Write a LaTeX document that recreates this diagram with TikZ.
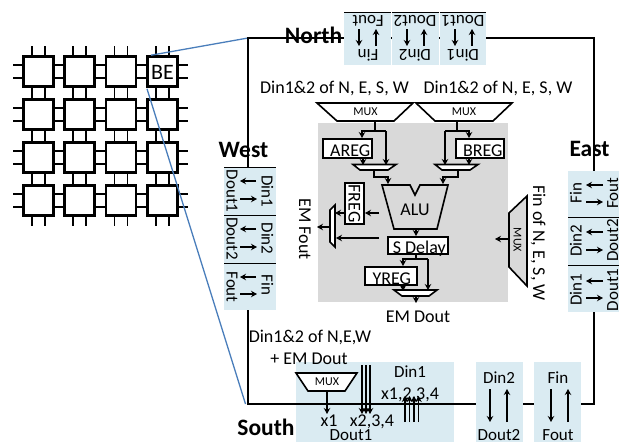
\documentclass[tikz,border=0pt]{standalone}
\usepackage{fontspec}
\setmainfont{Carlito}
\usetikzlibrary{arrows.meta}
\definecolor{panelblue}{HTML}{DAEBF2}
\definecolor{coregray}{HTML}{D9D9D9}
\definecolor{linkblue}{HTML}{4A7EBB}
\tikzset{
  wire/.style={line width=1.7pt,black},
  arr/.style={wire,-{Stealth[length=6pt,width=6.5pt]}},
  panel/.style={fill=panelblue,draw=none},
  t18/.style={inner sep=0pt,font=\fontsize{18}{18}\selectfont,text height=11.6pt,text depth=0pt},
  t17/.style={inner sep=0pt,font=\fontsize{17}{17}\selectfont,text height=11pt,text depth=0pt},
  t12/.style={inner sep=0pt,font=\fontsize{12}{12}\selectfont,text height=7.7pt,text depth=0pt},
  tb/.style={inner sep=0pt,font=\bfseries\fontsize{23.5}{23.5}\selectfont,text height=15pt,text depth=0pt},
  reg/.style={draw=black,line width=1.5pt,fill=white,inner sep=0pt,font=\fontsize{18}{18}\selectfont},
  tile/.style={draw=black,line width=2.6pt,fill=white,minimum width=30pt,minimum height=30pt,inner sep=0pt},
  muxshape/.style={draw=black,line width=1.6pt,fill=white,line join=miter},
  bordertop/.style={line width=1pt,black},
}
% named-end arrow helper
\newcommand{\arw}[5]{\coordinate (#1s) at (#2,#3);\coordinate (#1e) at (#4,#5);\draw[arr] (#1s) -- (#1e);}
\newcommand{\regtext}[1]{\raisebox{-8.7pt}[0pt][0pt]{#1}}
\begin{document}
\begin{tikzpicture}[x=1pt,y=-1pt]
\useasboundingbox (0,0) rectangle (624,442);
\clip (0,0) rectangle (624,442);
% ---------- tile array
\foreach \i/\cx in {1/38.5,2/79.7,3/121,4/162.3}{
  \foreach \j/\cy in {1/71.5,2/114.5,3/157.5,4/200.5}{
    \foreach \d in {-6.5,6.5}{
      \draw[line width=1.6pt] (\cx-25.5,\cy+\d) -- (\cx+25.5,\cy+\d);
      \draw[line width=1.6pt] (\cx+\d,\cy-25.5) -- (\cx+\d,\cy+25.5);
    }
  }
}
\foreach \i/\cx in {1/38.5,2/79.7,3/121,4/162.3}{
  \foreach \j/\cy in {1/71.5,2/114.5,3/157.5,4/200.5}{
    \node[tile] (tile\i\j) at (\cx,\cy) {};
  }
}
\node[t18,font=\fontsize{22}{22}\selectfont] (be) at (162.5,73.5) {BE};
% ---------- zoom lines
\coordinate (bigTL) at (248,38);
\coordinate (bigTR) at (594,38);
\coordinate (bigBR) at (594,404);
\coordinate (bigBL) at (248,404);
\draw[line width=1.3pt,linkblue] (tile41.north west) ++(5,0) -- (bigTL);
\draw[line width=1.3pt,linkblue] (tile41.south west) ++(1,1) -- (245.5,404);
% ---------- big outline
\draw[line width=1.5pt] (bigTL) -- (bigTR) -- (bigBR) -- (bigBL) -- cycle;
% ---------- panels
\fill[panel] (344,12) rectangle (390.5,65);
\fill[panel] (391.5,12) rectangle (438.5,65);
\fill[panel] (439.5,12) rectangle (486,65);
\fill[panel] (224,167) rectangle (276,214.5);
\fill[panel] (224,215.5) rectangle (276,262.5);
\fill[panel] (224,263.5) rectangle (276,310);
\fill[panel] (568,171) rectangle (619,216.5);
\fill[panel] (568,217.5) rectangle (619,264.5);
\fill[panel] (568,265.5) rectangle (619,312);
\fill[panel] (296,362) rectangle (454,442);
\fill[panel] (476,362) rectangle (523,442);
\fill[panel] (534,362) rectangle (581,442);
\draw[wire] (bigBL) -- (476,404);
\foreach \a/\b in {344/390.5,391.5/438.5,439.5/486}{\draw[bordertop] (\a,12) -- (\b,12);}
\foreach \y in {167,215,263}{\draw[bordertop] (224,\y) -- (276,\y);}
\foreach \y in {217,265}{\draw[bordertop] (568,\y) -- (619,\y);}
% ---------- core
\fill[coregray] (318,123) rectangle (508,302);
% top muxes
\draw[muxshape] (317,103) -- (413,103) -- (394,121) -- (337,121) -- cycle;
\draw[muxshape] (416,103) -- (512,103) -- (493,121) -- (435,121) -- cycle;
\node[t12] (muxa) at (365.5,112) {MUX};
\node[t12] (muxb) at (464,112) {MUX};
% registers
\node[reg,minimum width=49pt,minimum height=19pt,anchor=north west] (areg) at (322,138) {\hspace*{6pt}\regtext{AREG}};
\node[reg,minimum width=48pt,minimum height=19pt,anchor=north west] (breg) at (455,138) {\hspace*{6pt}\regtext{BREG}};
\node[reg,minimum width=19pt,minimum height=41pt] (freg) at (354.5,203.5) {\rotatebox{-90}{FREG}};
\node[reg,minimum width=60pt,minimum height=17pt,anchor=north west] (sdelay) at (387,236) {\hspace*{3pt}\regtext{S Delay}};
\node[reg,minimum width=52pt,minimum height=18pt,anchor=north west] (yreg) at (364,266) {\hspace*{2pt}\regtext{YREG}};
% small muxes
\draw[muxshape] (353,164.5) -- (396,164.5) -- (388,170) -- (360,170) -- cycle;
\coordinate (smA) at (374,170);
\draw[muxshape] (435,164.5) -- (478,164.5) -- (470,170) -- (442,170) -- cycle;
\coordinate (smB) at (458,170);
\draw[muxshape] (394,290) -- (437,290) -- (429,296) -- (402,296) -- cycle;
\coordinate (smY) at (416,296);
% ALU
\draw[muxshape,fill=coregray] (382,185) -- (410,185) -- (415,195) -- (420,185) -- (448,185) -- (437,229) -- (394,229) -- cycle;
\node[t18] (alu) at (415,209.5) {ALU};
% vertical muxes
\draw[muxshape] (335,205) -- (335,247) -- (330,242) -- (330,210) -- cycle;
\coordinate (vmF) at (330,227);
\draw[muxshape,fill=coregray] (527,196) -- (527,286) -- (509,267) -- (509,213) -- cycle;
\node[t12,rotate=-90] (muxf) at (517.5,240) {MUX};
% core wiring
\coordinate (ja) at (375,131);
\coordinate (jaL) at (362,131);
\coordinate (jaR) at (386,131);
\coordinate (ma) at (375,121);
\draw[wire] (ma) -- (ja);
\draw[arr] (jaR) -- (jaL) -- (areg.north -| jaL);
\coordinate (mai) at (386,165);
\draw[arr] (jaR) -- (mai);
\coordinate (ai) at (363,165);
\draw[arr] (areg.south -| ai) -- (ai);
\coordinate (aluA) at (388,184);
\draw[arr] (smA) -- (374,177) -- (388,177) -- (aluA);
\coordinate (jb) at (457,131);
\coordinate (jbL) at (445,131);
\coordinate (jbR) at (469,131);
\coordinate (mb) at (457,121);
\draw[wire] (mb) -- (jb);
\draw[arr] (jbL) -- (jbR) -- (breg.north -| jbR);
\coordinate (mbi) at (445,165);
\draw[arr] (jbL) -- (mbi);
\coordinate (bi) at (469,165);
\draw[arr] (breg.south -| bi) -- (bi);
\coordinate (aluB) at (443,184);
\draw[arr] (smB) -- (458,177) -- (443,177) -- (aluB);
\coordinate (aluOut) at (416,229);
\draw[arr] (aluOut) -- (sdelay.north -| aluOut);
\arw{af}{379}{213}{365}{213}
\coordinate (vmT) at (335,213);
\draw[arr] (freg.west |- vmT) -- (vmT);
\arw{sf}{379}{238}{336}{238}
\coordinate (emf) at (317,227);
\draw[arr] (vmF) -- (emf);
\coordinate (sd) at (416,259);
\draw[wire] (sdelay.south -| sd) -- (sd);
\coordinate (yi) at (403,259);
\draw[arr] (428,259) -- (yi) -- (yreg.north -| yi);
\coordinate (ymi) at (428,290);
\draw[arr] (428,259) -- (ymi);
\coordinate (ymj) at (403,291);
\draw[arr] (yreg.south -| ymj) -- (ymj);
\coordinate (emd) at (416,303);
\draw[arr] (smY) -- (emd);
\arw{ff}{509}{239}{495}{239}
% ---------- core text
\node[t18] (dinA) at (334.5,88) {Din1\&2 of N, E, S, W};
\node[t18] (dinB) at (498,88) {Din1\&2 of N, E, S, W};
\node[t18,rotate=-90] (emfout) at (305,229) {EM Fout};
\node[t18] (emdout) at (418,317) {EM Dout};
\node[t18,rotate=-90] (finof) at (539,243) {Fin of N, E, S, W};
% ---------- side titles
\node[tb] (north) at (313.5,36) {North};
\node[tb] (west) at (243.5,150) {West};
\node[tb] (east) at (589.5,149) {East};
\node[tb] (south) at (266,428) {South};
% ---------- north panels
\node[t17,rotate=180] (nfout) at (368,21) {Fout};
\node[t17,rotate=180] (nfin) at (368,55) {Fin};
\arw{n1}{359}{29}{359}{46}
\arw{n2}{376}{46}{376}{29}
\node[t17,rotate=180] (ndout2) at (415,21) {Dout2};
\node[t17,rotate=180] (ndin2) at (415,55) {Din2};
\arw{n3}{407}{29}{407}{46}
\arw{n4}{424}{46}{424}{29}
\node[t17,rotate=180] (ndout1) at (463,21) {Dout1};
\node[t17,rotate=180] (ndin1) at (463,55) {Din1};
\arw{n5}{455}{29}{455}{46}
\arw{n6}{472}{46}{472}{29}
% ---------- west panels
\node[t17,rotate=-90] (wdin1) at (267,191) {Din1};
\node[t17,rotate=-90] (wdout1) at (232,191) {Dout1};
\arw{w1}{256}{181}{240}{181}
\arw{w2}{240}{199}{257}{199}
\node[t17,rotate=-90] (wdin2) at (267,238.5) {Din2};
\node[t17,rotate=-90] (wdout2) at (232,238.5) {Dout2};
\arw{w3}{256}{229}{240}{229}
\arw{w4}{240}{247}{257}{247}
\node[t17,rotate=-90] (wfin) at (267,285) {Fin};
\node[t17,rotate=-90] (wfout) at (232,287) {Fout};
\arw{w5}{256}{277}{240}{277}
\arw{w6}{240}{294}{257}{294}
% ---------- east panels
\node[t17,rotate=90] (efin) at (576,193) {Fin};
\node[t17,rotate=90] (efout) at (612.5,193) {Fout};
\arw{e1}{603}{185}{586}{185}
\arw{e2}{586}{202}{603}{202}
\node[t17,rotate=90] (edin2) at (576,240.5) {Din2};
\node[t17,rotate=90] (edout2) at (612.5,240.5) {Dout2};
\arw{e3}{603}{232}{586}{232}
\arw{e4}{586}{250}{603}{250}
\node[t17,rotate=90] (edin1) at (576,290) {Din1};
\node[t17,rotate=90] (edout1) at (612.5,290) {Dout1};
\arw{e5}{603}{281}{586}{281}
\arw{e6}{586}{298}{603}{298}
% ---------- south panels
\node[t18] (sdin12) at (310,337) {Din1\&2 of N,E,W};
\node[t18] (semd) at (309,359) {+ EM Dout};
\draw[muxshape] (296,373) -- (357,373) -- (345,391) -- (308,391) -- cycle;
\node[t12] (muxs) at (327,382) {MUX};
\coordinate (muxsOut) at (327,391);
\coordinate (x1end) at (327,414);
\draw[arr] (muxsOut) -- (x1end);
\arw{sa}{362}{365}{362}{414}
\arw{sb}{366}{365}{366}{414}
\arw{sc}{370}{365}{370}{414}
\arw{sd1}{405}{422}{405}{396}
\arw{sd2}{409.5}{422}{409.5}{396}
\arw{sd3}{414}{422}{414}{396}
\arw{sd4}{418.5}{422}{418.5}{396}
\node[t18] (sx1) at (329,421) {x1};
\node[t18] (sx234) at (372,421) {x2,3,4};
\node[t17] (sdout1) at (351,434.5) {Dout1};
\node[t17] (sdin1) at (410,372) {Din1};
\node[t18] (sx1234) at (410,394) {x1,2,3,4};
\node[t17] (sdin2) at (499,378) {Din2};
\node[t17] (sdout2) at (499,434.5) {Dout2};
\arw{s1}{490}{389}{490}{422}
\arw{s2}{507}{422}{507}{389}
\node[t17] (sfin) at (558,378) {Fin};
\node[t17] (sfout) at (558,434.5) {Fout};
\arw{s3}{551}{389}{551}{422}
\arw{s4}{568}{422}{568}{389}
\end{tikzpicture}
\end{document}
